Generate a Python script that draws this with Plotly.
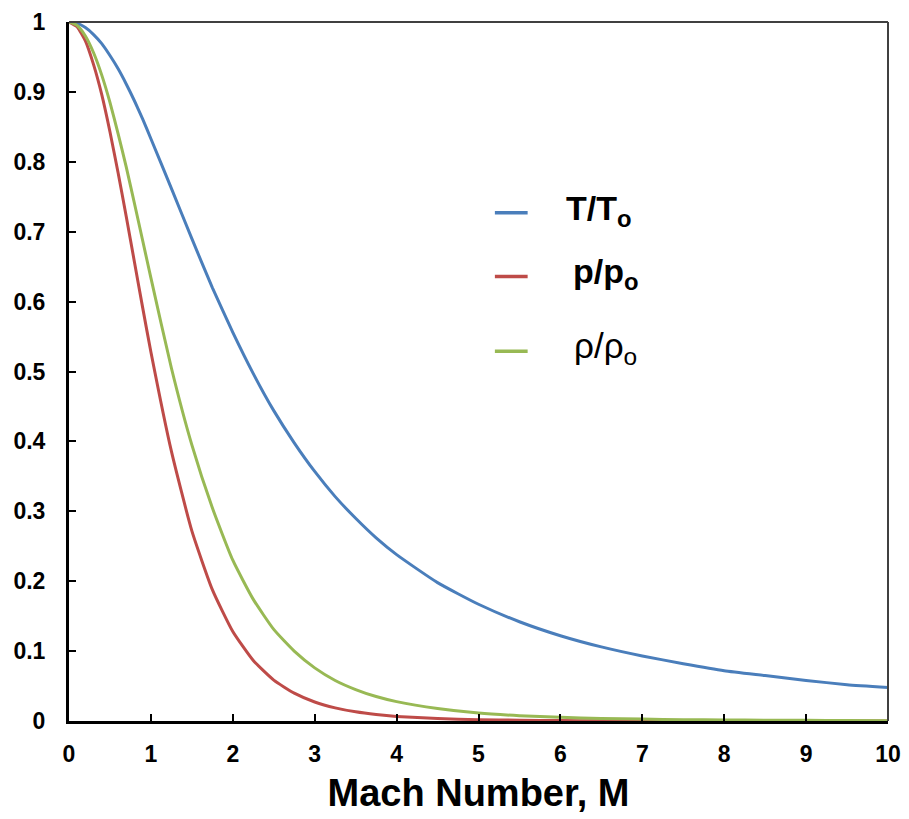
import plotly.graph_objects as go

# Mach numbers (x) and ratios
mach = [0, 0.1, 0.2, 0.3, 0.4, 0.5, 0.6, 0.7, 0.8, 0.9, 1.0,
        1.25, 1.5, 1.75, 2.0, 2.25, 2.5, 2.75, 3.0, 3.25, 3.5, 3.75, 4.0,
        4.5, 5.0, 5.5, 6.0, 6.5, 7.0, 7.5, 8.0, 8.5, 9.0, 9.5, 10.0]
t_ratio = [1.0, 0.998, 0.992, 0.982, 0.969, 0.952, 0.933, 0.911, 0.887, 0.861, 0.833,
           0.762, 0.690, 0.620, 0.556, 0.497, 0.444, 0.398, 0.357, 0.321, 0.290, 0.262, 0.238,
           0.198, 0.167, 0.142, 0.122, 0.106, 0.093, 0.082, 0.072, 0.065, 0.058, 0.052, 0.048]
p_ratio = [1.0, 0.993, 0.973, 0.939, 0.896, 0.843, 0.784, 0.721, 0.656, 0.591, 0.528,
           0.386, 0.272, 0.188, 0.128, 0.0865, 0.0585, 0.0398, 0.0272, 0.0188, 0.0131, 0.0093, 0.0066,
           0.0035, 0.0019, 0.0011, 0.0006, 0.0004, 0.0002, 0.00015, 0.0001, 0.00007, 0.00005, 0.00003, 0.00002]
rho_ratio = [1.0, 0.995, 0.980, 0.956, 0.924, 0.885, 0.840, 0.792, 0.740, 0.687, 0.634,
             0.505, 0.395, 0.305, 0.230, 0.174, 0.131, 0.100, 0.076, 0.058, 0.045, 0.035, 0.0277,
             0.0178, 0.0113, 0.0076, 0.0052, 0.0037, 0.0027, 0.0019, 0.0015, 0.0011, 0.0009, 0.0007, 0.0005]

series_names = ["<b>T/T<sub>o</sub></b>", "<b>p/p<sub>o</sub></b>", "ρ/ρ<sub>o</sub>"]
series_colors = ["#4A7EBB", "#BE4B48", "#98B954"]

x_ticks = list(range(0, 11))
y_ticks = [0, 0.1, 0.2, 0.3, 0.4, 0.5, 0.6, 0.7, 0.8, 0.9, 1]
y_tick_labels = ["0", "0.1", "0.2", "0.3", "0.4", "0.5", "0.6", "0.7", "0.8", "0.9", "1"]

font_family = "Liberation Sans, Arial, sans-serif"

fig = go.Figure()
for name, ys, col in zip(series_names, [t_ratio, p_ratio, rho_ratio], series_colors):
    fig.add_trace(go.Scatter(
        x=mach, y=ys, mode="lines", name=name, showlegend=False,
        line=dict(color=col, width=3, shape="spline", smoothing=0.5),
    ))

# Hand-placed legend (paper coordinates), as in the reference
legend_y = [0.727, 0.636, 0.529]
legend_text_x = [0.605, 0.613, 0.614]
legend_size = [34, 34, 35]
shapes = [
    dict(type="line", xref="paper", yref="paper", x0=0, x1=1, y0=1, y1=1,
         line=dict(color="#404040", width=2)),
    dict(type="line", xref="paper", yref="paper", x0=1, x1=1, y0=0, y1=1,
         line=dict(color="#404040", width=2)),
]
annotations = []
for name, col, ly, tx, fs in zip(series_names, series_colors, legend_y, legend_text_x, legend_size):
    shapes.append(dict(type="line", xref="paper", yref="paper", x0=0.52, x1=0.56, y0=ly, y1=ly,
                       line=dict(color=col, width=3.5)))
    annotations.append(dict(xref="paper", yref="paper", x=tx, y=ly + 0.004, xanchor="left",
                            yanchor="middle", text=name, showarrow=False,
                            font=dict(size=fs, family=font_family, color="black")))

fig.update_layout(
    width=901, height=811,
    margin=dict(l=61, r=21, t=14, b=98),
    paper_bgcolor="white", plot_bgcolor="white",
    font=dict(family=font_family, color="black"),
    xaxis=dict(
        range=[0, 10], tickvals=x_ticks, ticktext=[str(v) for v in x_ticks],
        showgrid=False, zeroline=False, automargin=False,
        showline=True, linecolor="black", linewidth=3,
        ticks="inside", ticklen=7, tickwidth=2, tickcolor="black",
        tickfont=dict(size=23, family=font_family, weight="bold"),
        ticklabelstandoff=10,
        title=dict(text="<b>Mach Number, M</b>", font=dict(size=38, family=font_family), standoff=14),
    ),
    yaxis=dict(
        range=[0, 1], tickvals=y_ticks, ticktext=y_tick_labels,
        showgrid=False, zeroline=False, automargin=False,
        showline=True, linecolor="black", linewidth=3,
        ticks="inside", ticklen=7, tickwidth=2, tickcolor="black",
        tickfont=dict(size=23, family=font_family, weight="bold"),
        ticklabelstandoff=16,
    ),
    shapes=shapes,
    annotations=annotations,
)

fig.write_html("out.html")
